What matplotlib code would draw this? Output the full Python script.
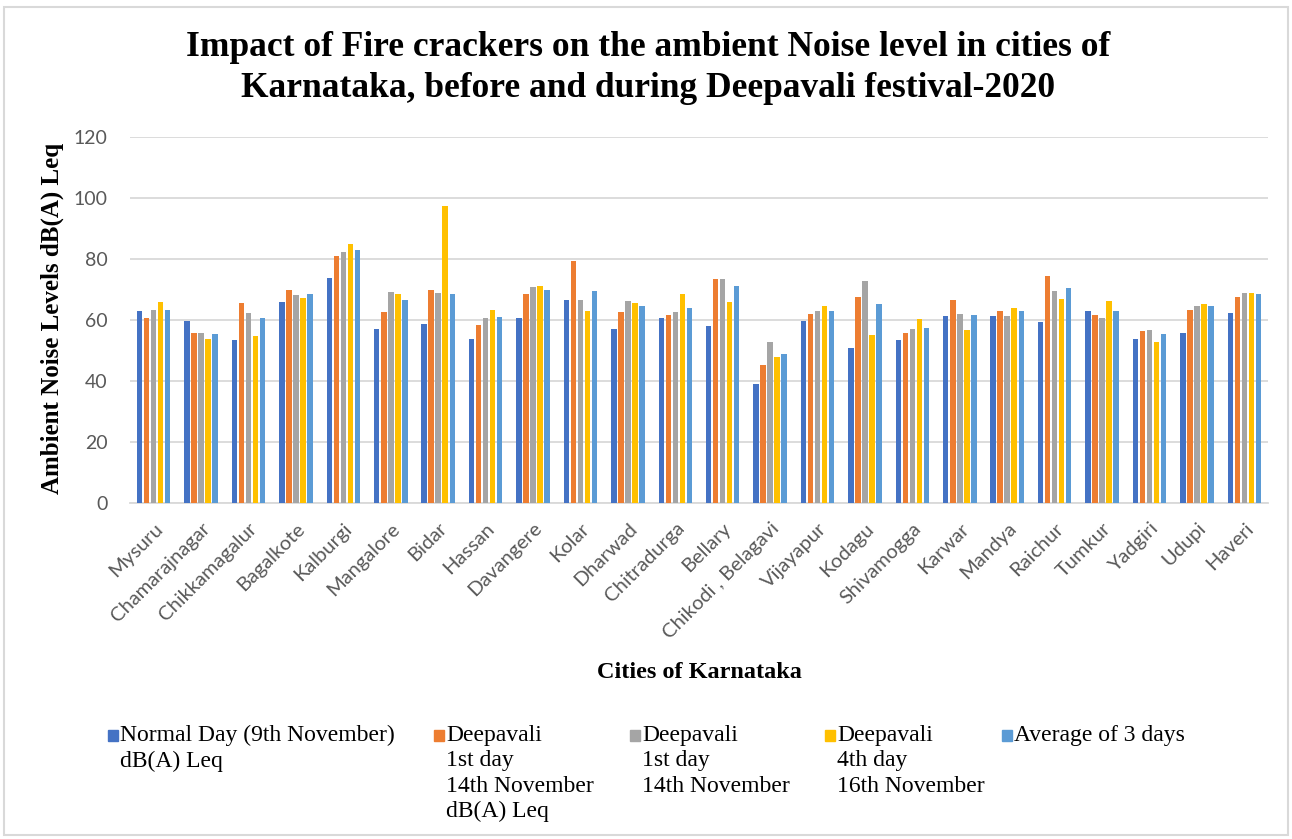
import numpy as np
import matplotlib.pyplot as plt
from matplotlib.patches import Rectangle

# noise levels in dB(A) Leq for each city
cities = ["Mysuru", "Chamarajnagar", "Chikkamagalur", "Bagalkote", "Kalburgi",
          "Mangalore", "Bidar", "Hassan", "Davangere", "Kolar", "Dharwad",
          "Chitradurga", "Bellary", "Chikodi , Belagavi", "Vijayapur", "Kodagu",
          "Shivamogga", "Karwar", "Mandya", "Raichur", "Tumkur", "Yadgiri",
          "Udupi", "Haveri"]

normal_day = [62.9, 59.7, 53.6, 65.8, 73.9, 57.1, 58.6, 53.7, 60.7, 66.7, 57.2, 60.5,
              57.9, 39.1, 59.6, 50.9, 53.4, 61.3, 61.2, 59.2, 62.9, 53.7, 55.8, 62.2]
deepavali_1a = [60.6, 55.9, 65.6, 70.0, 81.0, 62.5, 70.0, 58.3, 68.6, 79.2, 62.6, 61.6,
                73.4, 45.3, 62.0, 67.5, 55.6, 66.4, 63.0, 74.4, 61.7, 56.3, 63.3, 67.4]
deepavali_1b = [63.4, 55.9, 62.4, 68.3, 82.3, 69.1, 68.9, 60.6, 70.7, 66.7, 66.2, 62.6,
                73.4, 52.7, 62.8, 72.9, 57.0, 62.0, 61.4, 69.4, 60.6, 56.7, 64.6, 68.9]
deepavali_4 = [65.8, 53.9, 54.6, 67.2, 84.9, 68.4, 97.4, 63.4, 71.1, 62.8, 65.5, 68.4,
               65.9, 47.9, 64.5, 55.2, 60.2, 56.8, 63.8, 66.9, 66.2, 52.8, 65.1, 68.9]
average_3 = [63.3, 55.3, 60.6, 68.4, 82.9, 66.7, 68.6, 60.9, 70.0, 69.4, 64.6, 63.9,
             71.0, 48.7, 63.1, 65.3, 57.4, 61.6, 62.8, 70.4, 62.8, 55.3, 64.5, 68.4]

series = [normal_day, deepavali_1a, deepavali_1b, deepavali_4, average_3]
labels = ["Normal Day (9th November)\ndB(A) Leq",
          "Deepavali\n1st day\n14th November\ndB(A) Leq",
          "Deepavali\n1st day\n14th November",
          "Deepavali\n4th day\n16th November",
          "Average of 3 days"]
colors = ["#4472C4", "#ED7D31", "#A5A5A5", "#FFC000", "#5B9BD5"]

W, H = 1292, 839
fig = plt.figure(figsize=(W / 100, H / 100), dpi=100)
ax = fig.add_axes([130 / W, 1 - 503 / H, 1138 / W, 366 / H])

x = np.arange(len(cities))
step = 0.148
for i, (vals, c) in enumerate(zip(series, colors)):
    ax.bar(x + (i - 2) * step, vals, width=0.115, color=c, zorder=3)

ax.set_xlim(-0.5, len(cities) - 0.5)
ax.set_ylim(0, 120)
ax.set_yticks(range(0, 121, 20))
ax.yaxis.grid(True, color="#D9D9D9", lw=1.3)
ax.set_axisbelow(True)
for s in ["top", "left", "right"]:
    ax.spines[s].set_visible(False)
ax.spines["bottom"].set_color("#D9D9D9")
ax.spines["bottom"].set_linewidth(1.3)
ax.tick_params(length=0, colors="#595959")
ax.tick_params(axis="y", pad=16, labelsize=14)
ax.set_xticks(x)
ax.set_xticklabels(cities, rotation=45, ha="right", rotation_mode="anchor",
                   fontsize=14.5, family="Lato", color="#595959")
for t in ax.get_yticklabels():
    t.set_family("Lato")
ax.tick_params(axis="x", pad=12)

serif = "Liberation Serif"
fig.text(648 / W, 1 - 68 / H,
         "Impact of Fire crackers on the ambient Noise level in cities of\n"
         "Karnataka, before and during Deepavali festival-2020",
         ha="center", va="center", fontsize=25.5, fontweight="bold",
         family=serif, linespacing=1.33)
fig.text(52 / W, 1 - 318 / H, "Ambient Noise Levels dB(A) Leq", rotation=90,
         ha="center", va="center", fontsize=18, fontweight="bold", family=serif)
fig.text(699 / W, 1 - 672 / H, "Cities of Karnataka", ha="center", va="center",
         fontsize=17.5, fontweight="bold", family=serif)

# legend drawn as boxes with multi-line captions
leg_x = [108, 434, 630, 825, 1002]
for lx, lab, c in zip(leg_x, labels, colors):
    fig.patches.append(Rectangle((lx / W, 1 - 741 / H), 10 / W, 11 / H,
                                 transform=fig.transFigure, color=c))
    fig.text((lx + 12) / W, 1 - 725 / H, lab, ha="left", va="top",
             fontsize=17, family=serif, linespacing=1.27)

# chart border
fig.patches.append(Rectangle((4 / W, 4 / H), (W - 8) / W, (H - 11) / H,
                             transform=fig.transFigure, fill=False,
                             edgecolor="#D9D9D9", lw=1.5))

fig.savefig("out.png", dpi=100)
